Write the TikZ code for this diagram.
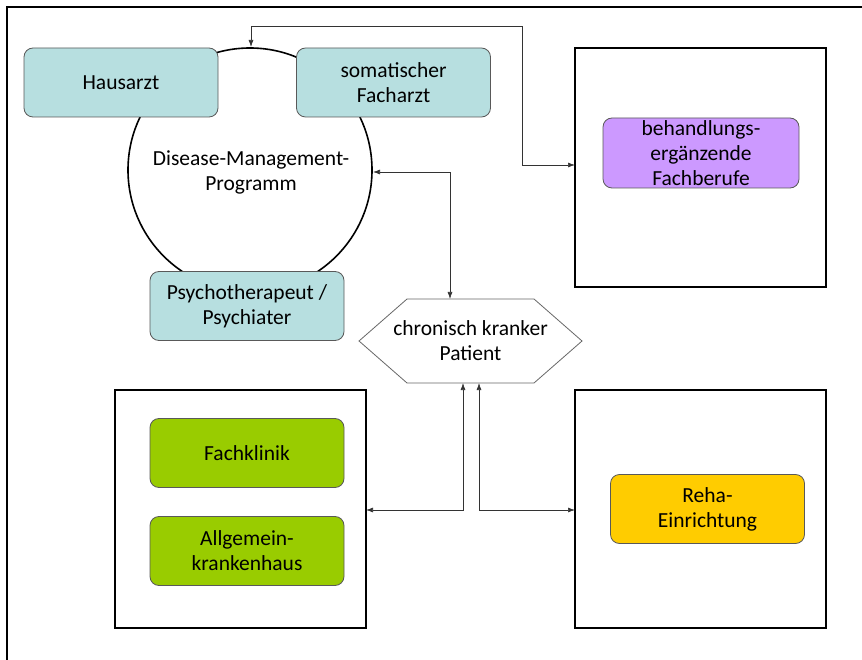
\documentclass[tikz,border=0pt]{standalone}
\usepackage{fontspec}
\setmainfont{Carlito}
\usetikzlibrary{arrows.meta}
\definecolor{kblue}{HTML}{B7DFE0}
\definecolor{kpurple}{HTML}{CC99FF}
\definecolor{kgreen}{HTML}{99CC00}
\definecolor{kyellow}{HTML}{FFCC00}
\tikzset{
  lbl/.style={align=center, font=\fontsize{21.5}{25}\selectfont},
  rbox/.style={lbl, draw=black!65, line width=0.8pt, rounded corners=9pt, minimum width=194pt,
    minimum height=69pt, inner sep=0pt},
  group/.style={draw=black, line width=1.8pt},
  link/.style={draw=black!80, line width=0.7pt, {Latex[length=7pt,width=5pt]}-{Latex[length=7pt,width=5pt]}},
}
\begin{document}
\begin{tikzpicture}[x=1pt,y=-1pt]
\useasboundingbox (0,0) rectangle (862,660);
% outer frame
\draw[line width=1.8pt] (7,660) -- (7,7) -- (862,7);

% group frames
\draw[group] (575,48) rectangle (826,287);
\draw[group] (115,390) rectangle (366,628);
\draw[group] (575,390) rectangle (826,628);

% DMP circle
\node[draw, circle, line width=1.6pt, minimum size=244pt, inner sep=0pt] (dmp) at (250,170) {};
\node[lbl] (dmptext) at (251,172) {Disease-Management-\\Programm};

% boxes round the circle
\node[rbox, fill=kblue] (haus) at (121,82.5) {Hausarzt};
\node[rbox, fill=kblue] (soma) at (393.5,82.5) {somatischer\\Facharzt};
\node[rbox, fill=kblue] (psych) at (247,306) {Psychotherapeut /\\Psychiater};

% right-top group
\node[rbox, fill=kpurple, minimum width=196pt, minimum height=70pt] (beh) at (701,153) {behandlungs-\\ergänzende\\Fachberufe};

% patient hexagon
\draw[draw=black!60, line width=0.8pt, fill=white]
  (359,341) -- (407,299) -- (534,299) -- (582,341) -- (534,383) -- (407,383) -- cycle;
\node[lbl] (pat) at (470.5,341) {chronisch kranker\\Patient};
\coordinate (pattop) at (450,299);
\coordinate (patbl) at (463,383);
\coordinate (patbr) at (479,383);

% hospitals
\node[rbox, fill=kgreen] (klinik) at (247,453) {Fachklinik};
\node[rbox, fill=kgreen] (khaus) at (247,551) {Allgemein-\\krankenhaus};

% rehab
\node[rbox, fill=kyellow] (reha) at (707.5,509) {Reha-\\Einrichtung};

% group anchors
\coordinate (gtop) at (575,165);
\coordinate (gbl) at (366,510);
\coordinate (gbr) at (575,510);
\coordinate (dmptop) at (251,47);
\coordinate (dmpright) at (373,172);

% connectors
\draw[link] (dmptop) -- (251,26) -- (522,26) -- (522,165) -- (gtop);
\draw[link] (dmpright) -- (450,172) -- (pattop);
\draw[link] (patbl) -- (463,510) -- (gbl);
\draw[link] (patbr) -- (479,510) -- (gbr);
\end{tikzpicture}
\end{document}
